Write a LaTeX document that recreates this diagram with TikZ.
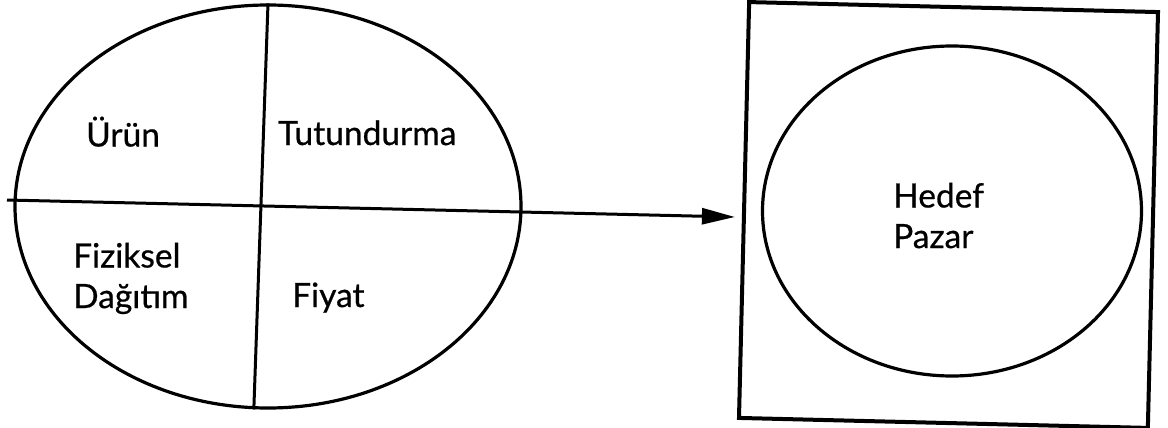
\documentclass[tikz,border=0pt]{standalone}
\usepackage{fontspec}
\setmainfont{Lato}[FakeBold=0.6]
\usetikzlibrary{shapes.geometric,arrows.meta}
\begin{document}
\begin{tikzpicture}[x=1pt,y=-1pt,
  lbl/.style={font=\fontsize{33.5}{40.5}\selectfont, inner sep=0pt, anchor=base west, align=left},
  oval/.style={draw, ellipse, inner sep=0pt, line width=3.2pt},
  frame/.style={draw, rectangle, inner sep=0pt, line width=4pt},
  divider/.style={line width=3pt},
  arrowline/.style={line width=3pt, -{Triangle[length=33pt,width=16pt]}, shorten >=7pt}]
\useasboundingbox (0,0) rectangle (1168,428);
% left ellipse
\node[oval, minimum width=506pt, minimum height=403pt] (mix) at (268,206.5) {};
% target box and inner ellipse
\node[frame, minimum width=409pt, minimum height=416pt, rotate=-1.4] (box) at (948.5,215) {};
\node[oval, minimum width=379pt, minimum height=330pt] (market) at (952,211) {};
% labels (multi-line nodes: base = last line)
\node[lbl] (urun) at (86,146.5) {Ürün};
\node[lbl] (tut) at (278,145) {Tutundurma};
\node[lbl] (fiz) at (73,308) {Fiziksel\\Dağıtım};
\node[lbl] (fiy) at (292,307) {Fiyat};
\node[lbl] (hed) at (893,248) {Hedef\\Pazar};
% dividers
\draw[divider] (mix.90.3) -- (mix.266.6);
\coordinate (start) at (7,200);
\draw[arrowline] (start) -- (box.182.7);
\end{tikzpicture}
\end{document}
